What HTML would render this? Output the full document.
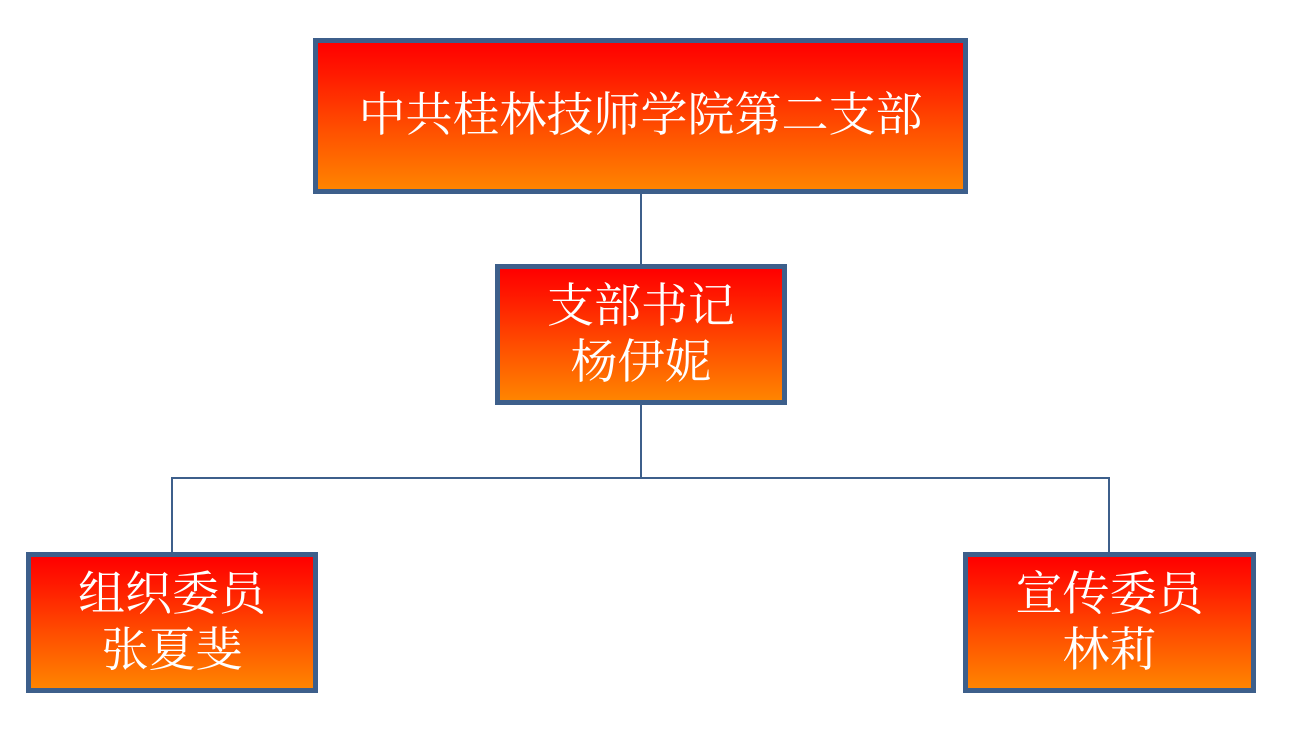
<!DOCTYPE html>
<html><head><meta charset="utf-8"><style>
body{margin:0;width:1292px;height:744px;background:#fff;position:relative;overflow:hidden}
.b{position:absolute;box-sizing:border-box;border:5px solid #3d5f8b;background:linear-gradient(#ff0000 0%,#ff1800 20%,#ff5000 60%,#ff8400 100%);color:#fff;font-family:"Liberation Serif","Noto Serif CJK SC",serif;font-size:47px;line-height:56px;display:flex;align-items:center;justify-content:center;text-align:center}
.l{position:absolute;background:#3d5f8b}
</style></head><body>
<div class="l" style="left:640px;top:192px;width:2px;height:74px"></div>
<div class="l" style="left:640px;top:402px;width:2px;height:77px"></div>
<div class="l" style="left:171px;top:477px;width:939px;height:2px"></div>
<div class="l" style="left:171px;top:477px;width:2px;height:77px"></div>
<div class="l" style="left:1108px;top:477px;width:2px;height:77px"></div>
<div class="b" style="left:313px;top:38px;width:655px;height:156px">中共桂林技师学院第二支部</div>
<div class="b" style="left:495px;top:264px;width:292px;height:141px">支部书记<br>杨伊妮</div>
<div class="b" style="left:26px;top:552px;width:292px;height:141px">组织委员<br>张夏斐</div>
<div class="b" style="left:963px;top:552px;width:293px;height:141px">宣传委员<br>林莉</div>
</body></html>
